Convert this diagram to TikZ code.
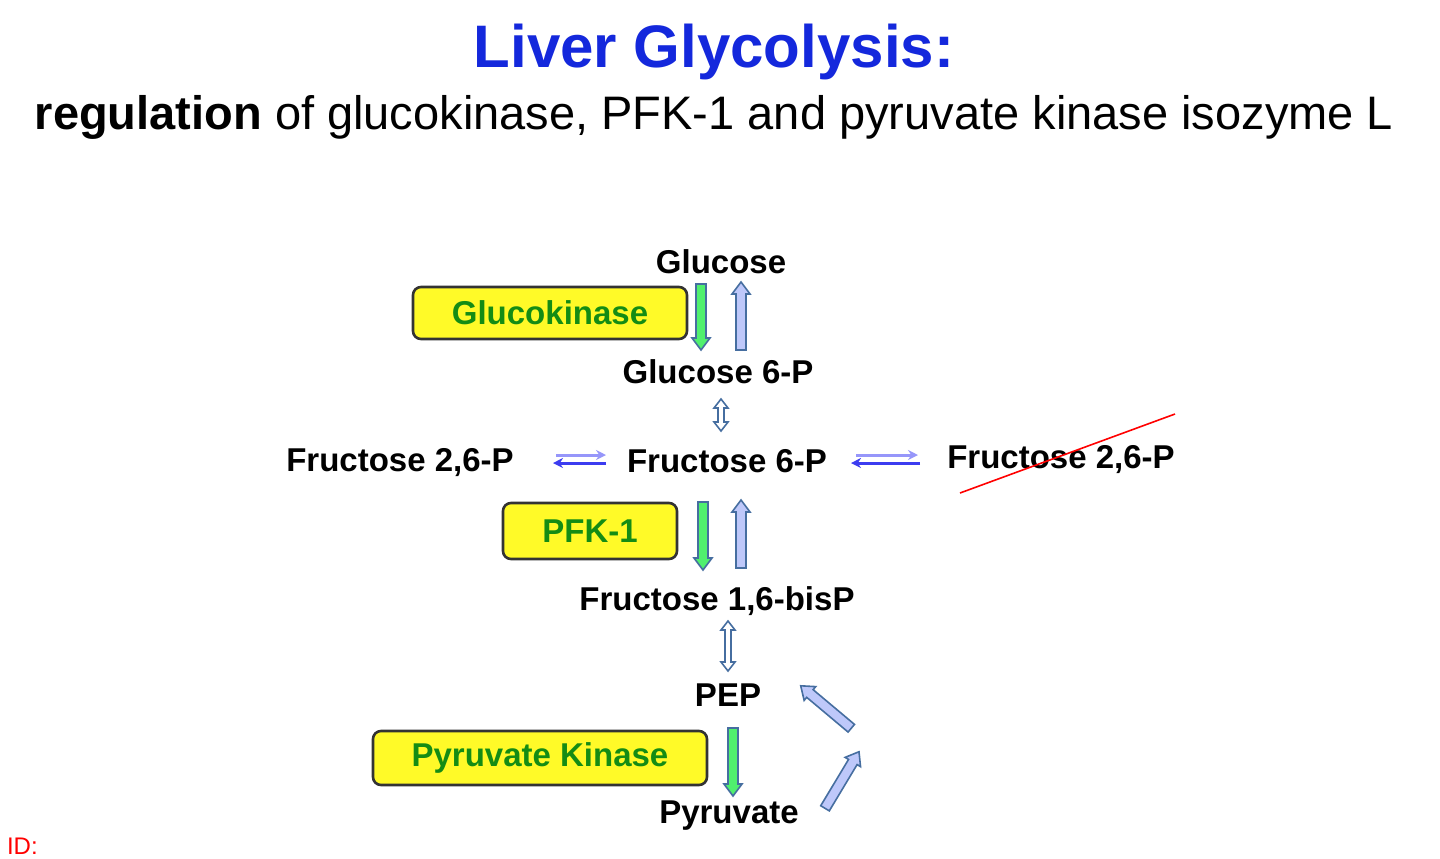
\documentclass[tikz,border=0pt]{standalone}
\usepackage{fontspec}
\setmainfont{Liberation Sans}
\usetikzlibrary{arrows.meta}
\definecolor{ttl}{RGB}{20,40,220}
\definecolor{grn}{RGB}{20,140,20}
\definecolor{ylw}{RGB}{255,250,40}
\definecolor{arrb}{RGB}{70,110,160}
\definecolor{lav}{RGB}{190,200,250}
\definecolor{gfill}{RGB}{80,240,110}
\definecolor{hb}{RGB}{60,60,240}
\definecolor{hl}{RGB}{150,150,250}
% block arrow: #1 x, #2 y (px, down), #3 angle (0 = right, ccw), #4 length, #5 fill
\newcommand{\blockarr}[5]{%
  \begin{scope}[shift={(#1,#2)},rotate=#3,x=0.5pt,y=-0.5pt]
    \draw[arrb,line width=0.8pt,fill=#5] (-#4/2,-5) -- (#4/2-12,-5) -- (#4/2-12,-9) -- (#4/2,0)
      -- (#4/2-12,9) -- (#4/2-12,5) -- (-#4/2,5) -- cycle;
  \end{scope}}
\newcommand{\dblarr}[3]{%
  \begin{scope}[shift={(#1,#2)},x=0.5pt,y=-0.5pt]
    \draw[arrb,line width=0.8pt,fill=white] (-3,-#3/2+9) -- (-7,-#3/2+9) -- (0,-#3/2) -- (7,-#3/2+9) -- (3,-#3/2+9)
      -- (3,#3/2-9) -- (7,#3/2-9) -- (0,#3/2) -- (-7,#3/2-9) -- (-3,#3/2-9) -- cycle;
  \end{scope}}
\begin{document}
\begin{tikzpicture}[x=0.5pt,y=-0.5pt,
  lbl/.style={font=\bfseries\fontsize{16.5}{18}\selectfont},
  enz/.style={draw=black!80,line width=1.3pt,fill=ylw,rounded corners=4pt,text=grn,font=\bfseries\fontsize{16.5}{18}\selectfont,inner sep=0pt}]
\useasboundingbox (0,0) rectangle (1440,858);
\node[text=ttl,font=\bfseries\fontsize{30}{34}\selectfont] (title) at (714,52) {Liver Glycolysis:};
\node[font=\fontsize{23.5}{26}\selectfont] (sub) at (714,117) {\textbf{regulation} of glucokinase, PFK-1 and pyruvate kinase isozyme L};
\node[lbl] (glc) at (721,262) {Glucose};
\node[lbl] (g6p) at (718,372) {Glucose 6-P};
\node[lbl] (f6p) at (727,461) {Fructose 6-P};
\node[lbl] (f26l) at (400,463) {Fructose 2,6-P};
\node[lbl] (f26r) at (1061,460) {Fructose 2,6-P};
\node[lbl] (f16) at (717,601) {Fructose 1,6-bisP};
\node[lbl] (pep) at (728,695) {PEP};
\node[lbl] (pyr) at (729,816) {Pyruvate};
\node[enz,minimum width=137pt,minimum height=26pt] (gk) at (550,313) {Glucokinase};
\node[enz,minimum width=87pt,minimum height=28pt] (pfk) at (590,531) {PFK-1};
\node[enz,minimum width=167pt,minimum height=27pt] (pk) at (540,758) {Pyruvate Kinase};
\node[text=red,font=\fontsize{12}{14}\selectfont,anchor=west] (id) at (0,846) {ID:};
% block arrows
\blockarr{701}{317}{-90}{66}{gfill}
\blockarr{741}{316}{90}{68}{lav}
\blockarr{703}{536}{-90}{68}{gfill}
\blockarr{741}{534}{90}{68}{lav}
\blockarr{733}{762}{-90}{68}{gfill}
\blockarr{842}{780}{59}{66}{lav}
\blockarr{826}{707}{140}{66}{lav}
\dblarr{721}{415}{32}
\dblarr{728}{646}{50}
% harpoons
\coordinate (h1a) at (556,455); \coordinate (h1b) at (606,455);
\coordinate (h2a) at (606,463); \coordinate (h2b) at (553,463);
\coordinate (h3a) at (856,455); \coordinate (h3b) at (918,455);
\coordinate (h4a) at (920,463); \coordinate (h4b) at (851,463);
\draw[hl,line width=1.5pt,-{Stealth[length=5pt,width=5pt]}] (h1a) -- (h1b);
\draw[hb,line width=1.5pt,-{Stealth[length=5pt,width=5pt]}] (h2a) -- (h2b);
\draw[hl,line width=1.5pt,-{Stealth[length=5pt,width=5pt]}] (h3a) -- (h3b);
\draw[hb,line width=1.5pt,-{Stealth[length=5pt,width=5pt]}] (h4a) -- (h4b);
\coordinate (s1) at (960,493); \coordinate (s2) at (1175,414);
\draw[red,line width=0.8pt] (s1) -- (s2);
\end{tikzpicture}
\end{document}
